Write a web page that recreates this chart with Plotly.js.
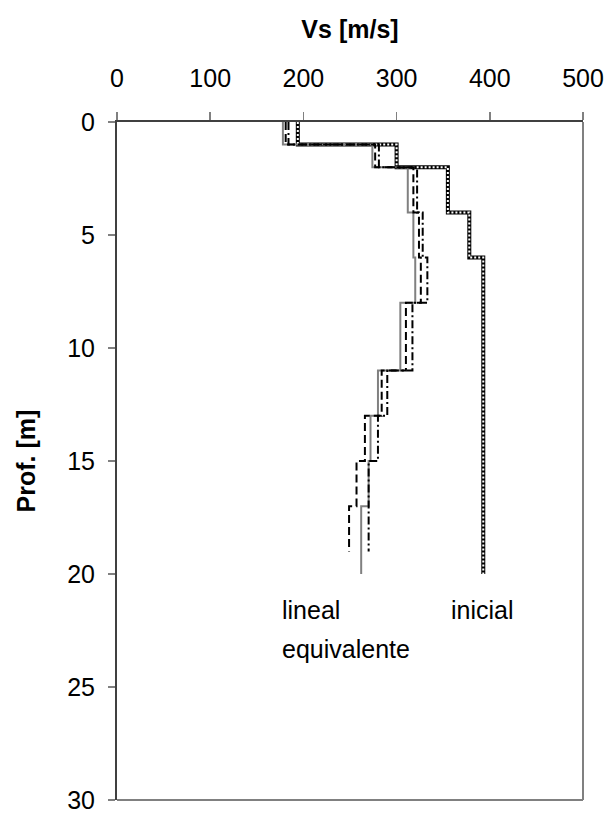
<!DOCTYPE html>
<html>
<head>
<meta charset="utf-8">
<script src="https://cdn.plot.ly/plotly-3.0.1.min.js"></script>
<style>html,body{margin:0;padding:0;background:#fff;}#chart{width:613px;height:818px;}</style>
</head>
<body>
<div id="chart"></div>
<script>
// Layer boundaries (depth, m) and Vs (m/s) per layer
const depthsA = [0, 1, 2, 4, 6, 8, 11, 13, 15, 17, 20];
const vsA     = [178, 274, 312, 318, 320, 304, 280, 272, 270, 262];

const depthsB = [0, 1, 2, 4, 6, 8, 11, 13, 15, 17, 19];
const vsB     = [181, 277, 318, 324, 326, 310, 284, 266, 257, 249];

const depthsC = [0, 1, 2, 4, 6, 8, 11, 13, 15, 19];
const vsC     = [184, 281, 322, 328, 333, 317, 290, 280, 270];

const depthsIni = [0, 1, 2, 4, 6, 20];
const vsIni     = [194, 300, 355, 378, 393];

const xTicks = [0, 100, 200, 300, 400, 500];
const yTicks = [0, 5, 10, 15, 20, 25, 30];

function stepXY(depths, vs) {
  const x = [], y = [];
  for (let i = 0; i < vs.length; i++) {
    x.push(vs[i]); y.push(depths[i]);
    x.push(vs[i]); y.push(depths[i + 1]);
  }
  return {x, y};
}

const a = stepXY(depthsA, vsA);
const b = stepXY(depthsB, vsB);
const c = stepXY(depthsC, vsC);
const ini = stepXY(depthsIni, vsIni);

const traces = [
  {x: ini.x, y: ini.y, mode: 'lines', line: {color: '#000', width: 4}, hoverinfo: 'skip'},
  {x: ini.x, y: ini.y, mode: 'lines', line: {color: '#fff', width: 2, dash: '2px,2px'}, hoverinfo: 'skip'},
  {x: a.x, y: a.y, mode: 'lines', line: {color: '#808080', width: 2}},
  {x: b.x, y: b.y, mode: 'lines', line: {color: '#000', width: 2, dash: '8px,4px'}},
  {x: c.x, y: c.y, mode: 'lines', line: {color: '#000', width: 2, dash: '8px,3px,2px,3px'}}
];

const font = {family: 'Liberation Sans, Arial, sans-serif', size: 25, color: '#000'};

const layout = {
  width: 613, height: 818,
  margin: {l: 117, r: 30, t: 122, b: 18},
  paper_bgcolor: '#fff', plot_bgcolor: '#fff',
  showlegend: false,
  font: font,
  xaxis: {
    side: 'top', range: [0, 500], tickvals: xTicks, ticktext: xTicks.map(String),
    showgrid: false, zeroline: false, showline: true, linecolor: '#404040', linewidth: 2,
    ticks: 'outside', ticklen: 8, tickcolor: '#808080', tickwidth: 1.5,
    ticklabelstandoff: 15,
    tickfont: font,
    title: {text: '<b>Vs [m/s]</b>', font: font, standoff: 18}
  },
  yaxis: {
    range: [30, 0], tickvals: yTicks, ticktext: yTicks.map(String),
    showgrid: false, zeroline: false, showline: true, linecolor: '#404040', linewidth: 2,
    ticks: 'outside', ticklen: 7, tickcolor: '#808080', tickwidth: 1.5,
    ticklabelstandoff: 8,
    tickfont: font,
    title: {text: '<b>Prof. [m]</b>', font: font, standoff: 24}
  },
  shapes: [
    {type: 'line', xref: 'paper', yref: 'paper', x0: 1, x1: 1, y0: 0, y1: 1, line: {color: '#808080', width: 2}},
    {type: 'line', xref: 'paper', yref: 'paper', x0: 0, x1: 1, y0: 0, y1: 0, line: {color: '#808080', width: 2}}
  ],
  annotations: [
    {x: 175, y: 21.6, xref: 'x', yref: 'y', text: 'lineal', showarrow: false, xanchor: 'left', yanchor: 'middle', font: font},
    {x: 175, y: 23.3, xref: 'x', yref: 'y', text: 'equivalente', showarrow: false, xanchor: 'left', yanchor: 'middle', font: font},
    {x: 356, y: 21.6, xref: 'x', yref: 'y', text: 'inicial', showarrow: false, xanchor: 'left', yanchor: 'middle', font: font}
  ]
};

Plotly.newPlot('chart', traces, layout, {staticPlot: true, displayModeBar: false});
</script>
</body>
</html>
